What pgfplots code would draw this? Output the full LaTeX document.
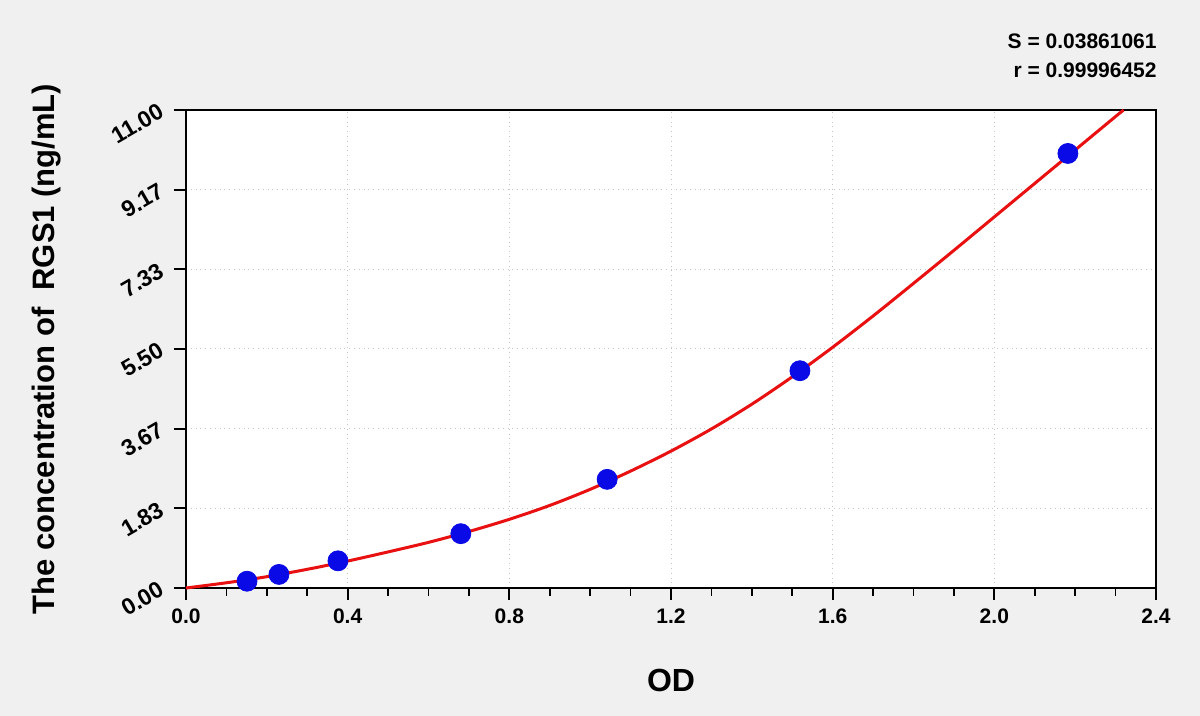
\documentclass[border=0pt]{standalone}
\usepackage{fontspec}
\setmainfont{Liberation Sans}
\usepackage{pgfplots}
\pgfplotsset{compat=1.18}

\definecolor{bgc}{HTML}{F0F0F0}
\definecolor{ptblue}{HTML}{0A0AE6}
\definecolor{fitred}{HTML}{E81010}

\begin{document}
\begin{tikzpicture}
% page background, 1200x716 px at 0.5pt per px
\fill[bgc] (0,0) rectangle (600pt,358pt);
\begin{axis}[
  at={(93pt,64pt)}, anchor=south west,
  scale only axis, width=485pt, height=239pt,
  xmin=0, xmax=2.4, ymin=0, ymax=11,
  axis background/.style={fill=white},
  axis line style={black, line width=1pt},
  xtick={0,0.4,...,2.4},
  xticklabels={0.0,0.4,0.8,1.2,1.6,2.0,2.4},
  ytick={0,1.8333,3.6667,5.5,7.3333,9.1667,11},
  yticklabels={0.00,1.83,3.67,5.50,7.33,9.17,11.00},
  minor x tick num=3, minor y tick num=3,
  xtick pos=bottom, ytick pos=left,
  tick align=outside,
  major tick length=6pt, minor tick length=4pt,
  every tick/.style={black, line width=0.9pt},
  grid=major,
  major grid style={gray!45, dotted, line width=0.5pt},
  /pgf/number format/assume math mode=true,
  tick label style={font=\bfseries\fontsize{10.5}{12}\selectfont},
  yticklabel style={font=\bfseries\fontsize{11.5}{13}\selectfont,
    anchor=east, xshift=-3pt, yshift=2pt, rotate=30},
  xticklabel style={yshift=-1pt},
  xlabel={OD},
  xlabel style={font=\bfseries\fontsize{16}{18}\selectfont,
    at={(axis description cs:0.5,-0.1925)}, anchor=center},
  ylabel={The concentration of\ \ RGS1 (ng/mL)},
  ylabel style={font=\bfseries\fontsize{15.5}{17}\selectfont,
    at={(axis description cs:-0.144,0.5)}, anchor=center},
  clip=false,
]
% standards
\addplot[only marks, mark=*, mark size=5pt, ptblue, mark options={draw=ptblue, fill=ptblue}]
  coordinates {(0.151,0.156) (0.230,0.3125) (0.376,0.625) (0.680,1.25)
               (1.042,2.5) (1.519,5.0) (2.182,10.0)};
% fitted curve
\addplot[fitred, line width=1.5pt, smooth] coordinates {
  (0,0) (0.1,0.12) (0.2,0.26) (0.3,0.43) (0.4,0.62) (0.5,0.83) (0.6,1.05)
  (0.7,1.30) (0.8,1.58) (0.9,1.90) (1.0,2.27) (1.1,2.69) (1.2,3.15)
  (1.3,3.66) (1.4,4.23) (1.5,4.86) (1.6,5.54) (1.7,6.26) (1.8,7.01)
  (1.9,7.77) (2.0,8.54) (2.1,9.31) (2.2,10.08) (2.3,10.85) (2.32,11.0)};
\end{axis}
\node[anchor=east, align=right, font=\bfseries\fontsize{10.5}{14.5}\selectfont, inner sep=0pt]
  at (578.5pt,330pt) {S = 0.03861061\\r = 0.99996452};
\end{tikzpicture}
\end{document}
